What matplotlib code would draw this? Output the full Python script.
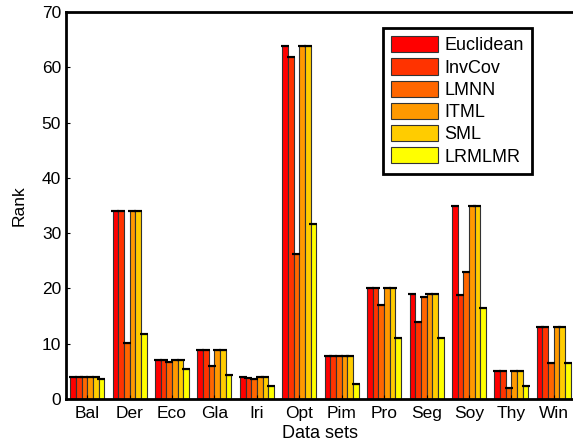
import numpy as np
import matplotlib
matplotlib.use('Agg')
import matplotlib.pyplot as plt

plt.rcParams['font.family'] = ['Liberation Sans', 'DejaVu Sans']

datasets = ['Bal', 'Der', 'Eco', 'Gla', 'Iri', 'Opt', 'Pim', 'Pro', 'Seg', 'Soy', 'Thy', 'Win']
methods = ['Euclidean', 'InvCov', 'LMNN', 'ITML', 'SML', 'LRMLMR']

euclidean = [4.0, 34.0, 7.0, 8.9, 4.0, 63.8, 7.8, 20.0, 19.0, 35.0, 5.0, 13.0]
invcov    = [4.0, 34.0, 7.0, 8.9, 3.8, 61.8, 7.8, 20.0, 14.0, 18.8, 5.0, 13.0]
lmnn      = [4.0, 10.2, 6.7, 5.9, 3.7, 26.3, 7.8, 17.0, 18.4, 22.9, 1.9, 6.5]
itml      = [4.0, 34.0, 7.0, 8.9, 4.0, 63.8, 7.8, 20.0, 19.0, 35.0, 5.0, 13.0]
sml       = [4.0, 34.0, 7.0, 8.9, 4.0, 63.8, 7.8, 20.0, 19.0, 35.0, 5.0, 13.0]
lrmlmr    = [3.6, 11.8, 5.4, 4.4, 2.4, 31.6, 2.8, 11.1, 11.1, 16.5, 2.4, 6.5]
series = [euclidean, invcov, lmnn, itml, sml, lrmlmr]

# autumn colormap, 6 steps
colors = [(1, 0, 0), (1, 0.2, 0), (1, 0.4, 0), (1, 0.6, 0), (1, 0.8, 0), (1, 1, 0)]

fig = plt.figure(figsize=(5.73, 4.47), dpi=100)
ax = fig.add_axes([66/573, 48/447, 509/573, 387/447])

x = np.arange(1, len(datasets) + 1)
n = len(series)
w = 0.8 / n
for i, (vals, c, m) in enumerate(zip(series, colors, methods)):
    pos = x - 0.4 + w * (i + 0.5)
    ax.bar(pos, vals, width=w, color=c, edgecolor='#333333', linewidth=0.8, label=m)
    ax.errorbar(pos, vals, yerr=np.zeros(len(vals)), fmt='none', ecolor='black',
                capsize=2.6, capthick=1.5, elinewidth=0)

ax.set_xlim(0.5, 12.5)
ax.set_ylim(0, 70)
ax.set_xticks(x)
ax.set_xticklabels(datasets)
ax.set_yticks(range(0, 71, 10))
ax.tick_params(direction='in', labelsize=12.5, length=3)
ax.tick_params(axis='x', pad=5)
for s in ax.spines.values():
    s.set_linewidth(2)
ax.set_xlabel('Data sets', fontsize=13, labelpad=3)
ax.set_ylabel('Rank', fontsize=12.5, labelpad=11)

leg = ax.legend(loc='upper right', bbox_to_anchor=(0.9155, 0.9587), fontsize=13,
                fancybox=False, framealpha=1, edgecolor='black',
                handlelength=2.6, handleheight=1.0, labelspacing=0.22,
                handletextpad=0.35, borderpad=0.45, borderaxespad=0)
leg.get_frame().set_linewidth(2)

plt.savefig('out.png', dpi=100)
